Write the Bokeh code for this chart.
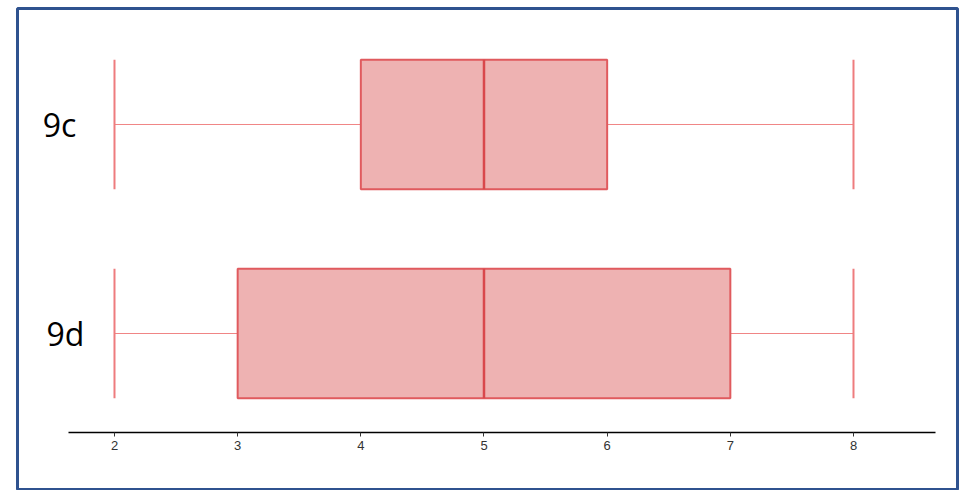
from bokeh.plotting import figure
from bokeh.models import LinearAxis, Range1d, FixedTicker, ColumnDataSource
from bokeh.core.properties import value
from bokeh.embed import file_html
from bokeh.resources import INLINE

# ---- data ----
categories = ["9c", "9d"]
mins = [2, 2]
q1s = [4, 3]
medians = [5, 5]
q3s = [6, 7]
maxs = [8, 8]
tick_values = [2, 3, 4, 5, 6, 7, 8]

# ---- layout / style ----
ypos = [len(categories) - i for i in range(len(categories))]  # 9c top, 9d bottom
box_h = 0.62
label_x = [1.553, 1.602]

src = ColumnDataSource(dict(cat=categories, y=ypos, lo=mins, q1=q1s, med=medians,
                            q3=q3s, hi=maxs, lx=label_x,
                            bot=[y - box_h / 2 for y in ypos],
                            top=[y + box_h / 2 for y in ypos]))

p = figure(width=967, height=490, output_backend="svg", toolbar_location=None,
           x_axis_type=None, y_axis_type=None,
           x_range=Range1d(1.2125, 8.8444), y_range=Range1d(0.2536, 2.555),
           min_border_left=17, min_border_right=10, min_border_top=8, min_border_bottom=1)
p.grid.visible = False
p.outline_line_color = "#2F528F"
p.outline_line_width = 3
p.outline_line_alpha = 1
p.background_fill_color = "white"
p.border_fill_color = "white"

wh_color = "#F08585"
box_line = "#E05A5E"

# whiskers
p.segment(x0="lo", y0="y", x1="q1", y1="y", source=src, line_color=wh_color, line_width=1)
p.segment(x0="q3", y0="y", x1="hi", y1="y", source=src, line_color=wh_color, line_width=1)
# caps
p.segment(x0="lo", y0="bot", x1="lo", y1="top", source=src,
          line_color="#EE7C7E", line_width=2)
p.segment(x0="hi", y0="bot", x1="hi", y1="top", source=src,
          line_color="#EE7C7E", line_width=2)
# boxes
p.quad(left="q1", right="q3", bottom="bot", top="top", source=src,
       fill_color="#EEB2B2", line_color=box_line, line_width=2)
# medians
p.segment(x0="med", y0="bot", x1="med", y1="top", source=src,
          line_color="#D9474C", line_width=2.5)

# category labels
p.text(x="lx", y="y", text="cat", source=src, text_font=value("Open Sans"),
       text_font_size="32px", text_align="center", text_baseline="middle",
       text_color="black")

# x axis inside the frame
ax = LinearAxis(fixed_location=0.5263, bounds=(1.6265, 8.666),
                ticker=FixedTicker(ticks=tick_values))
ax.axis_line_color = "black"
ax.axis_line_width = 1.5
ax.major_tick_in = 0
ax.major_tick_out = 4
ax.major_tick_line_color = "#333333"
ax.minor_tick_line_color = None
ax.major_label_text_font = "Liberation Sans"
ax.major_label_text_font_size = "13px"
ax.major_label_text_color = "#333333"
ax.major_label_standoff = 4
p.add_layout(ax, "below")

open("out.html", "w").write(file_html(p, INLINE))
